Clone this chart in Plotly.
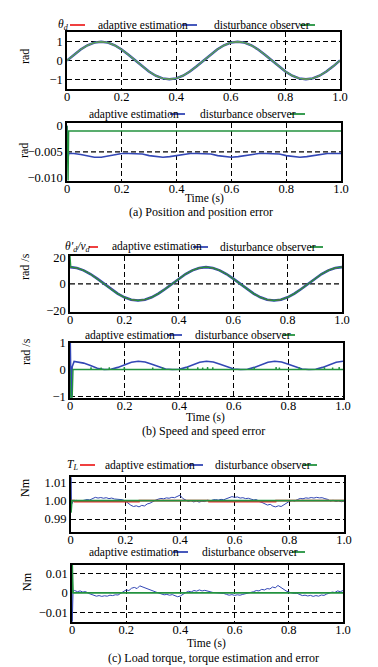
import plotly.graph_objects as go

W, H = 378, 667
FONT = "Liberation Serif"
RED, BLUE, GREEN = "#ee2b2b", "#3347b5", "#23923f"

# ---------------- data ----------------
T41 = [round(i * 0.025, 3) for i in range(41)]
T101 = [round(i * 0.01, 2) for i in range(101)]

x_ticks = [0, 0.2, 0.4, 0.6, 0.8, 1.0]
x_ticktext = ["0", "0.2", "0.4", "0.6", "0.8", "1.0"]

# (a) position
pos_values = [0, 0.309, 0.588, 0.809, 0.951, 1.0, 0.951, 0.809, 0.588, 0.309,
              0, -0.309, -0.588, -0.809, -0.951, -1.0, -0.951, -0.809, -0.588, -0.309,
              0, 0.309, 0.588, 0.809, 0.951, 1.0, 0.951, 0.809, 0.588, 0.309,
              0, -0.309, -0.588, -0.809, -0.951, -1.0, -0.951, -0.809, -0.588, -0.309, 0]

pos_err_ae_t = [0, 0.002, 0.006] + T41[1:]
pos_err_ae = [0, -0.0068, -0.0053,
              -0.0053, -0.0055, -0.0058, -0.0060, -0.0060, -0.0058, -0.0055, -0.0053, -0.0053, -0.0053,
              -0.0054, -0.0057, -0.0059, -0.0060, -0.0059, -0.0057, -0.0054, -0.0053, -0.0053, -0.0053,
              -0.0054, -0.0057, -0.0059, -0.0060, -0.0059, -0.0057, -0.0054, -0.0053, -0.0053, -0.0053,
              -0.0054, -0.0057, -0.0059, -0.0060, -0.0059, -0.0057, -0.0054, -0.0053, -0.0053, -0.0053]
pos_err_do_t = [0, 0.002, 0.004, 0.006, 1.0]
pos_err_do = [0, -0.0105, -0.0105, -0.001, -0.001]

# (b) speed
spd_values = [12.57, 11.95, 10.17, 7.39, 3.88, 0, -3.88, -7.39, -10.17, -11.95,
              -12.57, -11.95, -10.17, -7.39, -3.88, 0, 3.88, 7.39, 10.17, 11.95,
              12.57, 11.95, 10.17, 7.39, 3.88, 0, -3.88, -7.39, -10.17, -11.95,
              -12.57, -11.95, -10.17, -7.39, -3.88, 0, 3.88, 7.39, 10.17, 11.95, 12.57]
spd_do_t = [0, 0.003] + T41[1:]
spd_do = [21.0, 12.6] + spd_values[1:]

spd_err_ae_t = [0, 0.001, 0.004, 0.008, 0.015] + T41[1:]
spd_err_ae = [0, 1.0, -1.05, 0.1, 0.30,
              0.29, 0.24, 0.15, 0.05, 0.0, 0.01, 0.08, 0.18, 0.27, 0.31,
              0.28, 0.20, 0.10, 0.02, 0.0, 0.01, 0.08, 0.18, 0.27, 0.31,
              0.28, 0.20, 0.10, 0.02, 0.0, 0.01, 0.08, 0.18, 0.27, 0.31,
              0.28, 0.20, 0.10, 0.02, 0.0, 0.01, 0.08, 0.18, 0.27, 0.31]
spd_err_do_t = [0, 0.002, 0.008, 0.011, 1.0]
spd_err_do = [0, -1.05, -1.05, 0, 0]
spd_err_do_spike_t = [0.077, 0.114, 0.144, 0.199, 0.303, 0.339, 0.431, 0.468, 0.486,
                      0.504, 0.523, 0.675, 0.755, 0.767, 0.84, 0.932, 0.962, 0.986]
spd_err_do_spike_h = [0.08, 0.07, 0.08, 0.09, 0.07, 0.08, 0.09, 0.08, 0.07,
                      0.09, 0.08, 0.08, 0.09, 0.07, 0.08, 0.08, 0.07, 0.09]

# (c) torque
tq_ref_t = [0, 0.013, 0.014, 0.25, 0.251, 0.505, 0.506, 0.75, 0.751, 1.0]
tq_ref = [1.0, 1.0, 0.9995, 0.9995, 1.0, 1.0, 0.9995, 0.9995, 1.0, 1.0]
tq_do_t = [0, 0.001, 0.004, 0.05, 0.051, 0.25, 0.251, 0.505, 0.506, 0.75, 0.751, 1.0]
tq_do = [1.0, 0.9935, 1.0, 1.0, 1.0004, 1.0004, 1.0, 1.0, 1.0004, 1.0004, 1.0, 1.0]
tq_ae_t = [0, 0.001, 0.003] + T101[1:]
tq_ae = [1.0, 1.0127, 0.998,
         0.9998, 1.0002, 0.9996, 0.9999, 1.0003, 1.0006, 1.0004, 1.0012, 1.0018, 1.0014,
         1.0017, 1.0013, 1.0016, 1.0011, 1.0014, 1.0009, 1.0008, 1.0003, 1.0005, 0.9998,
         0.9985, 0.9975, 0.9968, 0.9972, 0.9966, 0.9974, 0.9971, 0.9982, 0.9986, 0.9995,
         1.0002, 1.0008, 1.0012, 1.0010, 1.0015, 1.0013, 1.0018, 1.0016, 1.0022, 1.0030,
         1.0012, 1.0005, 0.9996, 1.0001, 0.9993, 0.9998, 0.9992, 0.9997, 0.9995, 1.0002,
         0.9998, 1.0004, 1.0006, 1.0003, 1.0007, 1.0005, 1.0012, 1.0016, 1.0022, 1.0018,
         1.0020, 1.0014, 1.0016, 1.0011, 1.0013, 1.0008, 1.0004, 1.0006, 0.9995, 0.9990,
         0.9982, 0.9976, 0.9980, 0.9970, 0.9966, 0.9972, 0.9968, 0.9978, 0.9988, 0.9996,
         1.0001, 0.9998, 1.0006, 1.0012, 1.0010, 1.0015, 1.0013, 1.0017, 1.0014, 1.0018,
         1.0015, 1.0016, 1.0011, 1.0007, 0.9998, 1.0002, 0.9996, 0.9999, 0.9994, 0.9997]

tq_err_ae_t = [0, 0.001, 0.004] + T101[1:]
tq_err_ae = [0, -0.0148, 0.001,
             0.0012, 0.0006, 0.0010, 0.0004, 0.0007, -0.0002, -0.0006, -0.0013, -0.0017, -0.0014,
             -0.0018, -0.0015, -0.0017, -0.0012, -0.0014, -0.0010, -0.0011, -0.0002, 0.0006, 0.0015,
             0.0012, 0.0024, 0.0028, 0.0022, 0.0036, 0.0030, 0.0026, 0.0018, 0.0012, 0.0006,
             0.0004, -0.0001, -0.0006, -0.0010, -0.0008, -0.0012, -0.0009, -0.0014, -0.0020, -0.0016,
             -0.0006, 0.0002, 0.0008, 0.0005, 0.0012, 0.0009, 0.0015, 0.0010, 0.0013, 0.0008,
             0.0006, 0.0002, 0.0001, -0.0001, 0.0000, -0.0003, -0.0008, -0.0012, -0.0009, -0.0013,
             -0.0010, -0.0012, -0.0008, -0.0005, -0.0001, 0.0002, 0.0006, 0.0012, 0.0010, 0.0018,
             0.0015, 0.0022, 0.0020, 0.0030, 0.0026, 0.0038, 0.0028, 0.0018, 0.0010, 0.0004,
             0.0001, -0.0003, -0.0002, -0.0010, -0.0014, -0.0012, -0.0016, -0.0013, -0.0018, -0.0014,
             -0.0017, -0.0011, -0.0013, -0.0006, -0.0002, 0.0004, 0.0002, 0.0010, 0.0006, 0.0012]
tq_err_do_t = [0, 0.001, 0.004, 1.0]
tq_err_do = [0, 0.0143, 0, 0]

# ---------------- layout helpers ----------------
# panel boxes in pixels: top, bottom, left, right
boxes = [(32, 89, 67, 340), (122.7, 180.7, 67, 341), (255.7, 311.7, 70, 342),
         (342.7, 397.7, 70, 343), (477.3, 531.7, 70.7, 344), (565, 621.7, 72, 343)]
y_ranges = [[-1.52, 1.52], [-0.0105, 0.0006], [-21, 21.2], [-1.05, 1.0],
            [0.9831, 1.0127], [-0.0148, 0.0143]]
y_ticks = [[1, 0, -1], [0, -0.005, -0.010], [20, 0, -20], [1, 0, -1],
           [1.01, 1.00, 0.99], [0.01, 0, -0.01]]
y_ticktext = [["1", "0", "−1"], ["0", "−0.005", "−0.010"], ["20", "0", "−20"],
              ["1", "0", "−1"], ["1.01", "1.00", "0.99"], ["0.01", "0", "−0.01"]]
y_grid = [True, False, False, True, True, True]

fig = go.Figure()


def add(i, x, y, color, width):
    fig.add_trace(go.Scatter(x=x, y=y, mode="lines", xaxis=f"x{i}", yaxis=f"y{i}",
                             line=dict(color=color, width=width), showlegend=False,
                             hoverinfo="skip"))


# panel 1
add(1, T41, pos_values, BLUE, 2.4)
add(1, T41, pos_values, RED, 1.0)
add(1, T41, pos_values, "#4fa85c", 1.3)
# panel 2
add(2, pos_err_ae_t, pos_err_ae, BLUE, 1.6)
add(2, pos_err_do_t, pos_err_do, GREEN, 1.4)
# panel 3
add(3, T41, spd_values, BLUE, 2.6)
add(3, T41, spd_values, RED, 1.0)
add(3, spd_do_t, spd_do, GREEN, 1.3)
# panel 4
add(4, spd_err_ae_t, spd_err_ae, BLUE, 1.6)
g_t, g_v = list(spd_err_do_t[:-1]), list(spd_err_do[:-1])
for st, sh in zip(spd_err_do_spike_t, spd_err_do_spike_h):
    g_t += [st - 0.0008, st, st + 0.0008]
    g_v += [0, sh, 0]
g_t.append(spd_err_do_t[-1])
g_v.append(spd_err_do[-1])
add(4, g_t, g_v, GREEN, 1.4)
# panel 5
add(5, tq_ae_t, tq_ae, BLUE, 1.0)
add(5, tq_ref_t, tq_ref, RED, 1.8)
add(5, tq_do_t, tq_do, GREEN, 1.8)
# panel 6
add(6, tq_err_ae_t, tq_err_ae, BLUE, 1.0)
add(6, tq_err_do_t, tq_err_do, GREEN, 1.6)

layout = dict(template="none", width=W, height=H, margin=dict(l=0, r=0, t=0, b=0),
              paper_bgcolor="white", plot_bgcolor="white", showlegend=False,
              font=dict(family=FONT, color="black"))
GRID_DASH = "5px,3px"
TICKFONT = dict(family=FONT, size=12.5, color="black")
shapes = []
for i, (tp, bt, lf, rt) in enumerate(boxes, start=1):
    layout[f"xaxis{i}"] = dict(domain=[lf / W, rt / W], range=[0, 1], anchor=f"y{i}",
                               tickvals=x_ticks, ticktext=x_ticktext, ticks="",
                               automargin=False, ticklabelstandoff=-5,
                               showgrid=True, gridcolor="black", gridwidth=1.2,
                               griddash=GRID_DASH, zeroline=False, showline=True,
                               mirror=True, linecolor="black", linewidth=1.6,
                               tickfont=TICKFONT)
    layout[f"yaxis{i}"] = dict(domain=[1 - bt / H, 1 - tp / H], range=y_ranges[i - 1],
                               anchor=f"x{i}", tickvals=y_ticks[i - 1],
                               ticktext=y_ticktext[i - 1], ticks="", automargin=False,
                               showgrid=y_grid[i - 1], gridcolor="black", gridwidth=1.2,
                               griddash=GRID_DASH, zeroline=False, showline=True,
                               mirror=True, linecolor="black", linewidth=1.6,
                               tickfont=TICKFONT)

# single visible horizontal grid lines for panels 2 and 3
for i, yv in [(2, -0.005), (3, 0)]:
    shapes.append(dict(type="line", xref=f"x{i} domain", yref=f"y{i}", x0=0, x1=1,
                       y0=yv, y1=yv, line=dict(color="black", width=1.2, dash=GRID_DASH),
                       layer="below"))

annotations = []


def text(x, y, s, size=11.5, anchor="left", angle=0):
    annotations.append(dict(x=x / W, y=1 - y / H, xref="paper", yref="paper", text=s,
                            showarrow=False, xanchor=anchor, yanchor="middle",
                            textangle=angle,
                            font=dict(family=FONT, size=size, color="black")))


def leg_line(x0, x1, y, color):
    shapes.append(dict(type="line", xref="paper", yref="paper", x0=x0 / W, x1=x1 / W,
                       y0=1 - y / H, y1=1 - y / H, line=dict(color=color, width=1.8)))


# legends
legends = [
    (25, [("<i>θ<sub>d</sub></i>", 56, 70, 85, RED), ("adaptive estimation", 96, 182, 197, BLUE),
          ("disturbance observer", 212, 300, 315, GREEN)]),
    (114, [("adaptive estimation", 87, 170, 185, BLUE),
           ("disturbance observer", 198, 290, 305, GREEN)]),
    (247, [("<i>θ′<sub>d</sub>/v<sub>d</sub></i>", 63, 89, 98, RED),
           ("adaptive estimation", 110, 193, 208, BLUE),
           ("disturbance observer", 218, 310, 323, GREEN)]),
    (335, [("adaptive estimation", 83, 167, 182, BLUE),
           ("disturbance observer", 193, 283, 295, GREEN)]),
    (465, [("<i>T<sub>L</sub></i>", 65, 80, 95, RED), ("adaptive estimation", 103, 188, 203, BLUE),
           ("disturbance observer", 213, 303, 317, GREEN)]),
    (552, [("adaptive estimation", 87, 173, 188, BLUE),
           ("disturbance observer", 200, 292, 305, GREEN)]),
]
for ly, items in legends:
    for s, tx, l0, l1, c in items:
        text(tx, ly, s)
        leg_line(l0, l1, ly, c)

# y-axis titles
for s, x, y in [("rad", 25, 57), ("rad", 24, 151), ("rad /s", 25, 267),
                ("rad /s", 26, 352), ("Nm", 25, 488), ("Nm", 27, 582)]:
    text(x, y, s, size=12, anchor="center", angle=-90)

# x-axis titles and captions
for s, x, y in [("Time (s)", 204, 199), ("Time (s)", 205, 417), ("Time (s)", 206, 643)]:
    text(x, y, s, size=11.5, anchor="center")
for s, x, y in [("(a) Position and position error", 201, 212.5),
                ("(b) Speed and speed error", 203, 431),
                ("(c) Load torque, torque estimation and error", 213, 658)]:
    text(x, y, s, size=12, anchor="center")

layout["shapes"] = shapes
layout["annotations"] = annotations
fig.update_layout(**layout)
fig.write_html("out.html", config={"displayModeBar": False},
               post_script="document.body.style.margin='0';document.body.style.overflow='hidden';")
